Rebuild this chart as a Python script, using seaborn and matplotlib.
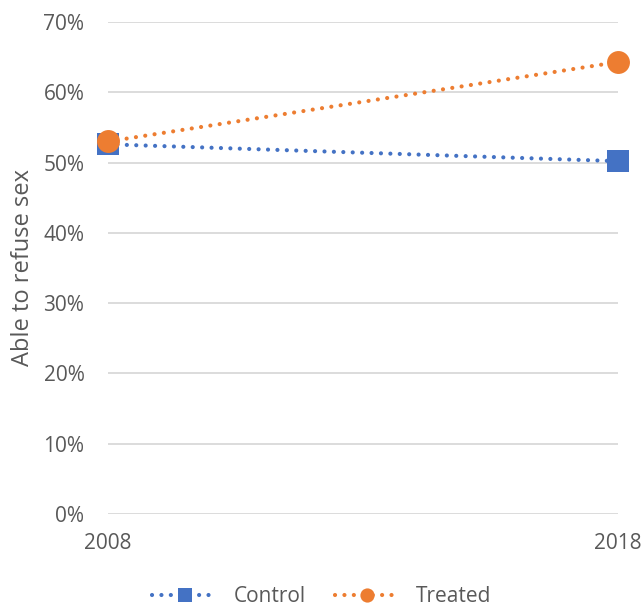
import matplotlib
matplotlib.use("Agg")
import matplotlib.pyplot as plt
import seaborn as sns
import pandas as pd
from matplotlib.ticker import PercentFormatter

# Survey years and share of respondents able to refuse sex
years = [2008, 2018]
control = [0.526, 0.502]
treated = [0.530, 0.643]
groups = ["Control", "Treated"]
palette = {"Control": "#4472C4", "Treated": "#ED7D31"}
marker_map = {"Control": "s", "Treated": "o"}
y_ticks = [0.0, 0.1, 0.2, 0.3, 0.4, 0.5, 0.6, 0.7]

df = pd.DataFrame({
    "year": years * 2,
    "share": control + treated,
    "group": ["Control"] * len(years) + ["Treated"] * len(years),
})

sns.set_theme(style="white")
plt.rcParams["font.family"] = ["Open Sans", "DejaVu Sans"]
text_color = "#595959"

fig = plt.figure(figsize=(6.44, 6.08), dpi=100)
ax = fig.add_axes([108 / 644, 1 - 514 / 608, (618 - 108) / 644, (514 - 22) / 608])

sns.lineplot(
    data=df, x="year", y="share", hue="group", style="group",
    hue_order=groups, style_order=groups,
    palette=palette, markers=marker_map,
    dashes={"Control": (0.01, 2.25), "Treated": (0.01, 2.25)},
    linewidth=3.0, markersize=16.5, markeredgewidth=0,
    ax=ax, clip_on=False, zorder=3,
)
for line in ax.get_lines():
    line.set_dash_capstyle("round")
    line.set_solid_capstyle("round")

ax.set_xlim(2008, 2018)
ax.set_ylim(0, 0.7)
ax.set_xticks(years)
ax.set_xticklabels([str(y) for y in years])
ax.set_yticks(y_ticks)
ax.yaxis.set_major_formatter(PercentFormatter(1.0, decimals=0))
ax.grid(axis="y", color="#d9d9d9", linewidth=1.3)
ax.grid(axis="x", visible=False)
for side in ax.spines.values():
    side.set_visible(False)
ax.tick_params(axis="both", length=0, labelsize=15, colors=text_color)
ax.tick_params(axis="x", pad=14)
ax.tick_params(axis="y", pad=17)
ax.set_xlabel("")
ax.set_ylabel("Able to refuse sex", fontsize=17, color=text_color, labelpad=6)

handles, labels = ax.get_legend_handles_labels()
for h in handles:
    h.set_dash_capstyle("round")
leg = ax.legend(
    handles, labels, loc="lower center", bbox_to_anchor=(0.5, 0.0),
    bbox_transform=fig.transFigure, ncol=2, frameon=False,
    fontsize=15, markerscale=0.62, handlelength=3.1, handletextpad=0.8,
    columnspacing=1.4, labelcolor=text_color, borderaxespad=0.0,
    borderpad=0.05,
)

fig.savefig("out.png", dpi=100)
